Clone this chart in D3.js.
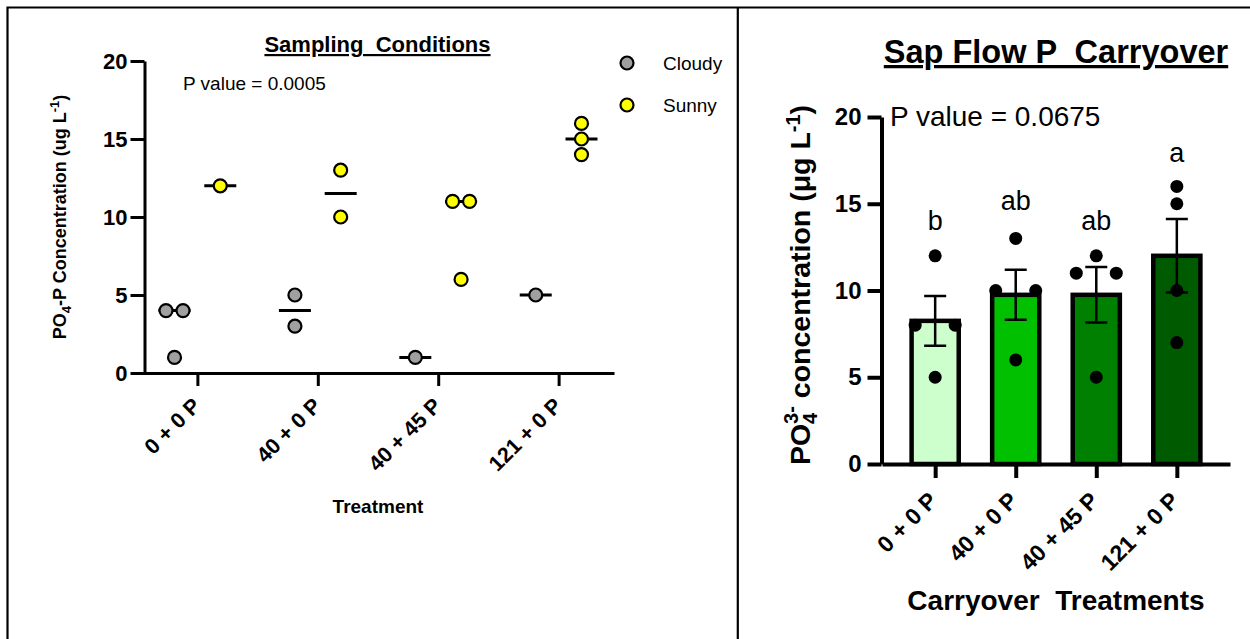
<!DOCTYPE html>
<html><head><meta charset="utf-8">
<script src="https://cdn.jsdelivr.net/npm/d3@7"></script>
<style>
body{margin:0;background:#fff}
svg{display:block}
text{font-family:"Liberation Sans",Arial,sans-serif;fill:#000}
</style>
</head><body>
<svg id="c" width="1250" height="639"></svg>
<script>
// ---------- data ----------
const treatments = ["0 + 0 P", "40 + 0 P", "40 + 45 P", "121 + 0 P"];
const seriesNames = ["Cloudy", "Sunny"];
const seriesColors = ["#a0a0a0", "#ffff00"];
const cloudyValues = [[4, 4, 1], [5, 3], [1], [5]];
const sunnyValues = [[12], [13, 10], [11, 11, 6], [16, 15, 14]];
const leftTicks = [0, 5, 10, 15, 20];
const leftTitle = "Sampling  Conditions";
const leftPValue = "P value = 0.0005";
const leftXTitle = "Treatment";

const carryValues = [[12, 8, 8, 5], [13, 10, 10, 6], [12, 11, 11, 5], [16, 15, 10, 7]];
const carryMeans = [8.25, 9.75, 9.75, 12];
const carrySem = [1.44, 1.44, 1.6, 2.12];
const barColors = ["#ccffcc", "#00c000", "#008000", "#005a00"];
const sigLetters = ["b", "ab", "ab", "a"];
const sigLetterY = [13.5, 14.65, 13.5, 17.4];
const rightTicks = [0, 5, 10, 15, 20];
const rightTitle = "Sap Flow P  Carryover";
const rightPValue = "P value = 0.0675";
const rightXTitle = "Carryover  Treatments";

// ---------- helpers ----------
const svg = d3.select("#c");
function spread(values, gap) {
  // symmetric spreading of equal values (Prism-like scatter)
  const counts = d3.rollup(values, v => v.length, d => d);
  const seen = new Map();
  return values.map(v => {
    const k = counts.get(v), i = seen.get(v) || 0;
    seen.set(v, i + 1);
    return { v, dx: (i - (k - 1) / 2) * gap };
  });
}

// frame
svg.append("path")
  .attr("d", "M6.5,7.5H1250M7.5,6.5V639M737.8,7V639")
  .attr("stroke", "#000").attr("stroke-width", 2.2).attr("fill", "none");

// ================= LEFT PANEL =================
const lx = d3.scalePoint().domain(treatments).range([142, 614]).padding(0.46);
const ly = d3.scaleLinear().domain([0, 20]).range([373, 61]);
const gL = svg.append("g");
const sOff = lx.step() * 0.19;

const yAxL = gL.append("g").attr("transform", "translate(144.5,0)")
  .call(d3.axisLeft(ly).tickValues(leftTicks).tickSize(14).tickPadding(3).tickSizeOuter(0));
yAxL.attr("font-family", null);
yAxL.selectAll("path,line").attr("stroke", "#000").attr("stroke-width", 3);
yAxL.selectAll("text").attr("font-size", 22).attr("font-weight", "bold");

const xAxL = gL.append("g").attr("transform", "translate(0,373)")
  .call(d3.axisBottom(lx).tickSize(13).tickSizeOuter(0));
xAxL.attr("font-family", null);
xAxL.selectAll("path,line").attr("stroke", "#000").attr("stroke-width", 3);
xAxL.selectAll("text").attr("font-size", 21.5).attr("font-weight", "bold")
  .attr("text-anchor", "end").attr("x", 0).attr("y", 0).attr("dy", 0)
  .attr("transform", "translate(4,34) rotate(-45)");

const leftSeries = [cloudyValues, sunnyValues];
leftSeries.forEach((ser, si) => {
  const dir = si === 0 ? -1 : 1;
  ser.forEach((vals, gi) => {
    const cx = lx(treatments[gi]) + dir * sOff;
    const med = d3.median(vals);
    gL.append("line")
      .attr("x1", cx - 16).attr("x2", cx + 16)
      .attr("y1", ly(med)).attr("y2", ly(med))
      .attr("stroke", "#000").attr("stroke-width", 3);
    gL.selectAll(null).data(spread(vals, 17)).enter().append("circle")
      .attr("cx", d => cx + d.dx).attr("cy", d => ly(d.v)).attr("r", 6.5)
      .attr("fill", seriesColors[si]).attr("stroke", "#000").attr("stroke-width", 2.2);
  });
});

// legend
const leg = gL.append("g").attr("transform", "translate(627,63)");
seriesNames.forEach((n, i) => {
  leg.append("circle").attr("cx", 0).attr("cy", i * 42).attr("r", 6.5)
    .attr("fill", seriesColors[i]).attr("stroke", "#000").attr("stroke-width", 2.2);
  leg.append("text").attr("x", 36).attr("y", i * 42).attr("dy", "0.36em")
    .attr("font-size", 19).text(n);
});

gL.append("text").attr("x", 377.5).attr("y", 52).attr("text-anchor", "middle")
  .attr("font-size", 22).attr("font-weight", "bold").attr("text-decoration", "underline")
  .style("white-space", "pre").text(leftTitle);
gL.append("text").attr("x", 183).attr("y", 90).attr("font-size", 19).text(leftPValue);
gL.append("text").attr("x", 378).attr("y", 513).attr("text-anchor", "middle")
  .attr("font-size", 19).attr("font-weight", "bold").text(leftXTitle);

const lyt = gL.append("text").attr("transform", "translate(66,217) rotate(-90)")
  .attr("text-anchor", "middle").attr("font-size", 18).attr("font-weight", "bold");
lyt.append("tspan").text("PO");
lyt.append("tspan").attr("font-size", 13).attr("dy", 5).text("4");
lyt.append("tspan").attr("dy", -5).text("-P Concentration (ug L");
lyt.append("tspan").attr("font-size", 13).attr("dy", -7).text("-1");
lyt.append("tspan").attr("dy", 7).text(")");

// ================= RIGHT PANEL =================
const rx = d3.scalePoint().domain(treatments).range([882, 1230]).padding(0.66);
const ry = d3.scaleLinear().domain([0, 20]).range([464, 117]);
const gR = svg.append("g");
const barW = rx.step() * 0.585;

gR.selectAll(".bar").data(treatments).enter().append("rect")
  .attr("x", d => rx(d) - barW / 2).attr("width", barW)
  .attr("y", (d, i) => ry(carryMeans[i]))
  .attr("height", (d, i) => ry(0) - ry(carryMeans[i]))
  .attr("fill", (d, i) => barColors[i]).attr("stroke", "#000").attr("stroke-width", 4.5);

treatments.forEach((t, i) => {
  const cx = rx(t), lo = ry(carryMeans[i] - carrySem[i]), hi = ry(carryMeans[i] + carrySem[i]);
  gR.append("path")
    .attr("d", `M${cx},${lo}V${hi}M${cx - 11},${hi}H${cx + 11}M${cx - 11},${lo}H${cx + 11}`)
    .attr("stroke", "#000").attr("stroke-width", 2.5).attr("fill", "none");
  gR.selectAll(null).data(spread(carryValues[i], 40)).enter().append("circle")
    .attr("cx", d => cx + d.dx).attr("cy", d => ry(d.v)).attr("r", 6.5).attr("fill", "#000");
  gR.append("text").attr("x", cx).attr("y", ry(sigLetterY[i])).attr("text-anchor", "middle")
    .attr("font-size", 27).text(sigLetters[i]);
});

const yAxR = gR.append("g").attr("transform", "translate(881.5,0)")
  .call(d3.axisLeft(ry).tickValues(rightTicks).tickSize(14).tickPadding(6).tickSizeOuter(0));
yAxR.attr("font-family", null);
yAxR.selectAll("path,line").attr("stroke", "#000").attr("stroke-width", 4);
yAxR.selectAll("text").attr("font-size", 24).attr("font-weight", "bold");

const xAxR = gR.append("g").attr("transform", "translate(0,464)")
  .call(d3.axisBottom(rx).tickSize(14).tickSizeOuter(0));
xAxR.attr("font-family", null);
xAxR.selectAll("path,line").attr("stroke", "#000").attr("stroke-width", 4);
xAxR.selectAll("text").attr("font-size", 23).attr("font-weight", "bold")
  .attr("text-anchor", "end").attr("x", 0).attr("y", 0).attr("dy", 0)
  .attr("transform", "translate(3,38) rotate(-45)");

gR.append("text").attr("x", 1056).attr("y", 63).attr("text-anchor", "middle")
  .attr("font-size", 32.5).attr("font-weight", "bold").attr("text-decoration", "underline")
  .style("white-space", "pre").text(rightTitle);
gR.append("text").attr("x", 890).attr("y", 126).attr("font-size", 28).text(rightPValue);
gR.append("text").attr("x", 1056).attr("y", 610).attr("text-anchor", "middle")
  .attr("font-size", 28).attr("font-weight", "bold").style("white-space", "pre").text(rightXTitle);

const ryt = gR.append("text").attr("transform", "translate(810,285) rotate(-90)")
  .attr("text-anchor", "middle").attr("font-size", 28.5).attr("font-weight", "bold");
ryt.append("tspan").text("PO");
ryt.append("tspan").attr("font-size", 20).attr("dy", 7).text("4");
ryt.append("tspan").attr("font-size", 20).attr("dx", -11.1).attr("dy", -19).text("3-");
ryt.append("tspan").attr("dy", 12).style("white-space", "pre").text(" concentration (μg L");
ryt.append("tspan").attr("font-size", 20).attr("dy", -10).text("-1");
ryt.append("tspan").attr("dy", 10).text(")");
</script>
</body></html>
